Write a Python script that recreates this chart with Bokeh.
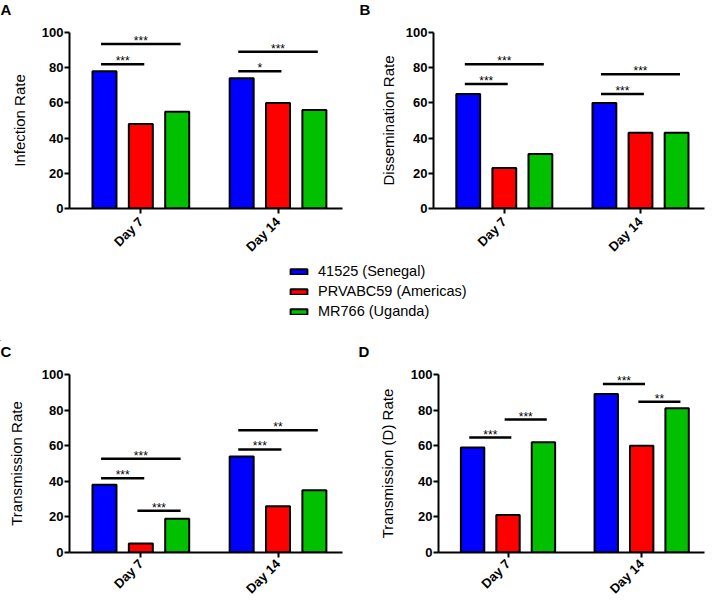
import math
from bokeh.plotting import figure
from bokeh.models import ColumnDataSource, FixedTicker, Legend, LegendItem, Range1d, Title
from bokeh.layouts import column, row
from bokeh.embed import file_html
from bokeh.resources import INLINE
from bokeh.core.properties import value

# ---------------- data ----------------
days = ["Day 7", "Day 14"]
strains = ["41525 (Senegal)", "PRVABC59 (Americas)", "MR766 (Uganda)"]
strain_colors = ["#0000ff", "#ff0000", "#00c000"]

panel_letters = ["A", "B", "C", "D"]
y_titles = ["Infection Rate", "Dissemination Rate", "Transmission Rate", "Transmission (D) Rate"]

infection_senegal = [78, 74]
infection_americas = [48, 60]
infection_uganda = [55, 56]

dissemination_senegal = [65, 60]
dissemination_americas = [23, 43]
dissemination_uganda = [31, 43]

transmission_senegal = [38, 54]
transmission_americas = [5, 26]
transmission_uganda = [19, 35]

transmission_d_senegal = [59, 89]
transmission_d_americas = [21, 60]
transmission_d_uganda = [62, 81]

# significance brackets: (day index, from strain, to strain, height, label)
sig_infection = [(0, 0, 1, 82, "***"), (0, 0, 2, 93.5, "***"),
                 (1, 0, 1, 78, "*"), (1, 0, 2, 89, "***")]
sig_dissemination = [(0, 0, 1, 70.8, "***"), (0, 0, 2, 82, "***"),
                     (1, 0, 1, 65, "***"), (1, 0, 2, 76.3, "***")]
sig_transmission = [(0, 0, 1, 41.7, "***"), (0, 0, 2, 52.7, "***"), (0, 1, 2, 23.5, "***"),
                    (1, 0, 1, 57.9, "***"), (1, 0, 2, 68.7, "**")]
sig_transmission_d = [(0, 0, 1, 64.6, "***"), (0, 1, 2, 74.7, "***"),
                      (1, 0, 1, 94.6, "***"), (1, 1, 2, 84.7, "**")]

y_ticks = [0, 20, 40, 60, 80, 100]

panels = [
    ([infection_senegal, infection_americas, infection_uganda], sig_infection),
    ([dissemination_senegal, dissemination_americas, dissemination_uganda], sig_dissemination),
    ([transmission_senegal, transmission_americas, transmission_uganda], sig_transmission),
    ([transmission_d_senegal, transmission_d_americas, transmission_d_uganda], sig_transmission_d),
]

# ---------------- styling / layout ----------------
FONT = "Liberation Sans"
group_pos = [1, 2]
offsets = [-0.265, 0.0, 0.265]
bar_w = 0.175

# width, height, border left/right/top/bottom, y-title standoff, x-label standoff, letter x-shift
geom = [
    (348, 262, 69, 6, 31, 54, 11, 6, 0),
    (358, 262, 85, 2, 31, 54, 6, 6, 11),
    (348, 263, 69, 6, 33, 52, 14, 4, 0),
    (358, 263, 90, 2, 33, 52, 12, 4, 10),
]


def make_panel(i):
    series, sigs = panels[i]
    w, h, bl, br, bt, bb, lab_so, xl_so, lx = geom[i]
    p = figure(width=w, height=h, toolbar_location=None, output_backend="svg",
               x_range=Range1d(0.48, 2.47), y_range=Range1d(0, 100),
               min_border_left=bl, min_border_right=br,
               min_border_top=bt, min_border_bottom=bb)
    # spacer (closest to frame) then the panel letter further out
    p.add_layout(Title(text=" ", text_font=FONT, text_font_size="10px", standoff=0), "above")
    p.add_layout(Title(text=panel_letters[i], align="left", vertical_align="top",
                       offset=-bl + lx, standoff=0,
                       text_font=FONT, text_font_style="bold", text_font_size="15px",
                       text_color="black"), "above")
    p.outline_line_color = None
    p.xgrid.visible = False
    p.ygrid.visible = False

    for s, vals in enumerate(series):
        src = ColumnDataSource(dict(x=[g + offsets[s] for g in group_pos], top=vals))
        p.vbar(x="x", top="top", bottom=0, width=bar_w, source=src,
               fill_color=strain_colors[s], line_color="black", line_width=2)

    x0, x1, ys, tx, labels = [], [], [], [], []
    for (d, a, b, hgt, lab) in sigs:
        xa = group_pos[d] + offsets[a] - 0.025
        xb = group_pos[d] + offsets[b] + 0.025
        x0.append(xa); x1.append(xb); ys.append(hgt)
        tx.append((xa + xb) / 2); labels.append(lab)
    p.segment(x0=x0, y0=ys, x1=x1, y1=ys, line_color="black", line_width=2.5)
    p.text(x=tx, y=ys, text=labels, text_align="center", text_baseline="alphabetic",
           y_offset=-3, text_font=value(FONT), text_font_size="12px", text_color="black")

    xa = p.xaxis[0]
    xa.ticker = FixedTicker(ticks=group_pos)
    xa.major_label_overrides = {g: d for g, d in zip(group_pos, days)}
    xa.major_label_orientation = math.pi / 4
    xa.major_label_text_font = FONT
    xa.major_label_text_font_style = "bold"
    xa.major_label_text_font_size = "13px"
    xa.major_label_text_color = "black"
    xa.major_label_standoff = xl_so

    ya = p.yaxis[0]
    ya.ticker = FixedTicker(ticks=y_ticks)
    ya.major_label_text_font = FONT
    ya.major_label_text_font_style = "bold"
    ya.major_label_text_font_size = "13px"
    ya.major_label_text_color = "black"
    ya.major_label_standoff = 1
    ya.axis_label = y_titles[i]
    ya.axis_label_text_font = FONT
    ya.axis_label_text_font_style = "normal"
    ya.axis_label_text_font_size = "15px"
    ya.axis_label_text_color = "black"
    ya.axis_label_standoff = lab_so

    for ax in (xa, ya):
        ax.axis_line_width = 2
        ax.axis_line_color = "black"
        ax.major_tick_line_width = 2
        ax.major_tick_line_color = "black"
        ax.major_tick_in = 0
        ax.major_tick_out = 5
        ax.minor_tick_line_color = None
    return p


figs = [make_panel(i) for i in range(4)]

# ---------------- legend strip ----------------
lf = figure(width=706, height=79, toolbar_location=None, output_backend="svg",
            x_range=Range1d(0, 1), y_range=Range1d(0, 1),
            min_border_left=0, min_border_right=0, min_border_top=0, min_border_bottom=0)
lf.axis.visible = False
lf.xgrid.visible = False
lf.ygrid.visible = False
lf.outline_line_color = None
items = []
for s, name in enumerate(strains):
    r = lf.vbar(x=[-10], top=[0], width=0.1, fill_color=strain_colors[s],
                line_color="black", line_width=2)
    items.append(LegendItem(label=name, renderers=[r]))
legend = Legend(items=items, location=(288, 22), padding=0, margin=0,
                border_line_color=None, background_fill_alpha=0,
                glyph_width=21, glyph_height=7, label_height=16, spacing=4,
                label_standoff=9, label_text_font=FONT, label_text_font_size="14.5px",
                label_text_color="black")
lf.add_layout(legend)

layout = column(row(figs[0], figs[1]), lf, row(figs[2], figs[3]))

with open("out.html", "w") as f:
    f.write(file_html(layout, INLINE))
